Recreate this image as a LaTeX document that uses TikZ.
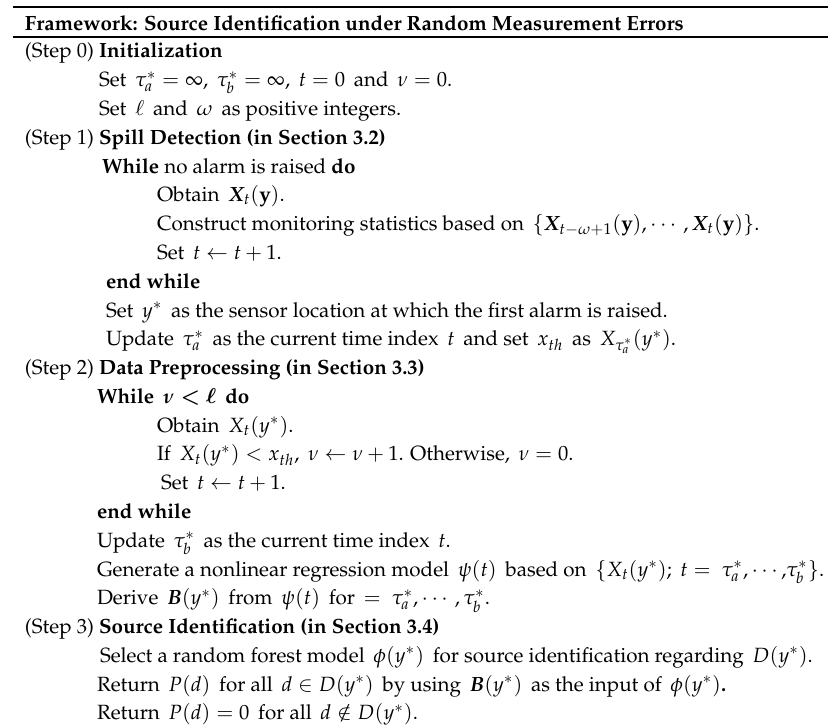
\documentclass[tikz,border=0pt]{standalone}
\usepackage{amsmath,amssymb}
\usepackage[T1]{fontenc}
\usepackage{mathpazo}
\usepackage{bm}
\newcommand{\gsp}{\hspace{0.42em}}
\newcommand{\ly}[1]{58+(#1-1)*28.78}
\begin{document}
\begin{tikzpicture}[x=0.5pt,y=-0.5pt,
  txt/.style={inner sep=0pt, outer sep=0pt, anchor=base west, font=\fontsize{10.3}{12}\selectfont},
  toprule/.style={line width=1.4pt},
  midrule/.style={line width=1.1pt}]
\useasboundingbox (0,0) rectangle (828,727);
\coordinate (r1a) at (13,7);
\coordinate (r1b) at (828,7);
\coordinate (r2a) at (13,37);
\coordinate (r2b) at (828,37);
\draw[toprule] (r1a) -- (r1b);
\draw[midrule] (r2a) -- (r2b);
\node[txt] (l0) at (25,31) {\textbf{Framework: Source Identification under Random Measurement Errors}};
% Step 0
\node[txt] (l1) at (25,{\ly{1}}) {(Step 0) \textbf{Initialization}};
\node[txt] (l2) at (99,{\ly{2}}) {Set\gsp$\tau_a^*=\infty$,\gsp$\tau_b^*=\infty$,\gsp$t=0$\gsp and\gsp$\nu=0$.};
\node[txt] (l3) at (99,{\ly{3}}) {Set\gsp$\ell$\gsp and\gsp$\omega$\gsp as positive integers.};
% Step 1
\node[txt] (l4) at (25,{\ly{4}}) {(Step 1) \textbf{Spill Detection (in Section 3.2)}};
\node[txt] (l5) at (102,{\ly{5}}) {\textbf{While} no alarm is raised \textbf{do}};
\node[txt] (l6) at (157,{\ly{6}}) {Obtain\gsp$\bm{X}_t(\mathbf{y})$.};
\node[txt] (l7) at (157,{\ly{7}}) {Construct monitoring statistics based on\gsp$\{\bm{X}_{t-\omega+1}(\mathbf{y}),\cdots,\bm{X}_t(\mathbf{y})\}$.};
\node[txt] (l8) at (157,{\ly{8}}) {Set\gsp$t\leftarrow t+1$.};
\node[txt] (l9) at (106,{\ly{9}}) {\textbf{end while}};
\node[txt] (l10) at (106,{\ly{10}}) {Set\gsp$y^*$\gsp as the sensor location at which the first alarm is raised.};
\node[txt] (l11) at (106,{\ly{11}}) {Update\gsp$\tau_a^*$\gsp as the current time index\gsp$t$\gsp and set\gsp$x_{th}$\gsp as\gsp$X_{\tau_a^*}(y^*)$.};
% Step 2
\node[txt] (l12) at (25,{\ly{12}}) {(Step 2) \textbf{Data Preprocessing (in Section 3.3)}};
\node[txt] (l13) at (97,{\ly{13}}) {\textbf{While}\gsp$\bm{\nu<\ell}$\gsp\textbf{do}};
\node[txt] (l14) at (157,{\ly{14}}) {Obtain\gsp$X_t(y^*)$.};
\node[txt] (l15) at (157,{\ly{15}}) {If\gsp$X_t(y^*)<x_{th}$,\gsp$\nu\leftarrow\nu+1$. Otherwise,\gsp$\nu=0$.};
\node[txt] (l16) at (161,{\ly{16}}) {Set\gsp$t\leftarrow t+1$.};
\node[txt] (l17) at (97,{\ly{17}}) {\textbf{end while}};
\node[txt] (l18) at (97,{\ly{18}}) {Update\gsp$\tau_b^*$\gsp as the current time index\gsp$t$.};
\node[txt] (l19) at (97,{\ly{19}}) {Generate a nonlinear regression model\gsp$\psi(t)$\gsp based on\gsp$\{X_t(y^*);\ t=\ \tau_a^*{,}\cdots{,}\tau_b^*\}$.};
\node[txt] (l20) at (97,{\ly{20}}) {Derive\gsp$\bm{B}(y^*)$\gsp from\gsp$\psi(t)$\gsp for\gsp$=\ \tau_a^*,\cdots,\tau_b^*$.};
% Step 3
\node[txt] (l21) at (25,{\ly{21}}) {(Step 3) \textbf{Source Identification (in Section 3.4)}};
\node[txt] (l22) at (100,{\ly{22}}) {Select a random forest model\gsp$\phi(y^*)$\gsp for source identification regarding\gsp$D(y^*)$.};
\node[txt] (l23) at (97,{\ly{23}}) {Return\gsp$P(d)$\gsp for all\gsp$d\in D(y^*)$\gsp by using\gsp$\bm{B}(y^*)$\gsp as the input of\gsp$\phi(y^*)$\textbf{.}};
\node[txt] (l24) at (97,{\ly{24}}) {Return\gsp$P(d)=0$\gsp for all\gsp$d\notin D(y^*)$.};
\end{tikzpicture}
\end{document}
